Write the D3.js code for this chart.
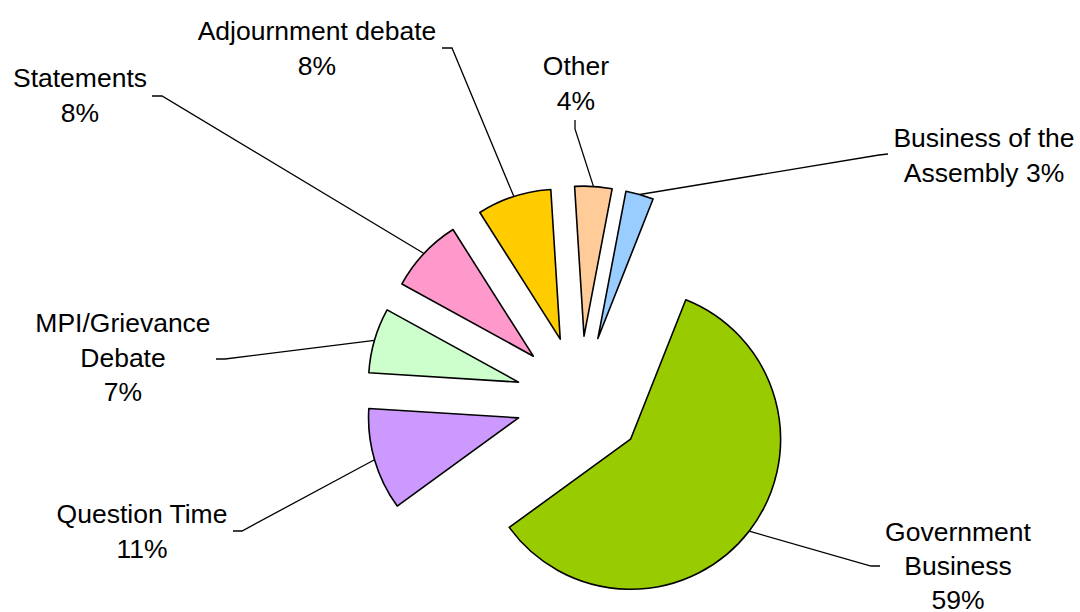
<!DOCTYPE html>
<html>
<head>
<meta charset="utf-8">
<script src="https://cdn.jsdelivr.net/npm/d3@7"></script>
<style>
  html, body { margin: 0; padding: 0; background: #fff; }
  svg text { font-family: "Liberation Sans", Arial, sans-serif; font-size: 26.5px; fill: #000; }
</style>
</head>
<body>
<svg id="chart" width="1080" height="612"></svg>
<script>
// values, in clockwise order from Government Business
const categories = ['Government Business', 'Question Time', 'MPI/Grievance Debate',
  'Statements', 'Adjournment debate', 'Other', 'Business of the Assembly'];
const shares = [59, 11, 7, 8, 8, 4, 3];
const sliceColors = ['#99CC00', '#CC99FF', '#CCFFCC', '#FF99CC', '#FFCC00', '#FFCC99', '#99CCFF'];
const labelLines = [
  ['Government', 'Business', '59%'],
  ['Question Time', '11%'],
  ['MPI/Grievance', 'Debate', '7%'],
  ['Statements', '8%'],
  ['Adjournment debate', '8%'],
  ['Other', '4%'],
  ['Business of the', 'Assembly 3%']
];

// layout (label anchors: centre x, first baseline)
const Center = [580, 400];
const Radius = 150;
const Explode = 64;
const LineHeight = 34.5;
const StartDeg = 21.6;
const labelPos = [[958, 541], [142, 523], [123, 332], [80, 87], [317, 40], [576, 75], [984, 147]];
const labelLineHeight = [34, LineHeight, LineHeight, LineHeight, LineHeight, LineHeight, LineHeight];
const leaderStart = [[880, 566], [233, 531], [216, 359], [152, 96], [442, 48], [575, 120], [888, 154]];
const leaderKnee = [[871, 566], [242, 531], [225, 359], [162, 96], [452, 48], [575, 129], [879, 155]];

const svg = d3.select('#chart');
const start = StartDeg * Math.PI / 180;
const pie = d3.pie()
  .sort(null)
  .value(d => d)
  .startAngle(start)
  .endAngle(start + 2 * Math.PI);
const arc = d3.arc().innerRadius(0).outerRadius(Radius);
const arcs = pie(shares);

const offsetOf = (a, r) => {
  const mid = (a.startAngle + a.endAngle) / 2;
  return [Math.sin(mid) * r, -Math.cos(mid) * r];
};

const slices = svg.append('g')
  .classed('slices', true)
  .selectAll('g')
  .data(arcs)
  .enter().append('g')
    .attr('transform', a => {
      const [dx, dy] = offsetOf(a, Explode);
      return `translate(${Center[0] + dx},${Center[1] + dy})`;
    });

slices.append('path')
  .attr('d', arc)
  .attr('fill', (a, i) => sliceColors[i])
  .attr('stroke', '#000')
  .attr('stroke-width', 1.6)
  .attr('stroke-linejoin', 'round');

// leader lines: label -> knee -> middle of the slice's outer arc
const line = d3.line();
svg.append('g')
  .classed('leaders', true)
  .selectAll('path')
  .data(arcs)
  .enter().append('path')
    .attr('fill', 'none')
    .attr('stroke', '#000')
    .attr('stroke-width', 1.3)
    .attr('d', (a, i) => {
      const [ex, ey] = offsetOf(a, Explode);
      const [px, py] = offsetOf(a, Radius);
      const end = [Center[0] + ex + px, Center[1] + ey + py];
      return line([leaderStart[i], leaderKnee[i], end]);
    });

const labels = svg.append('g')
  .classed('labels', true)
  .selectAll('text')
  .data(categories)
  .enter().append('text')
    .attr('text-anchor', 'middle')
    .attr('aria-label', (c, i) => `${c} ${shares[i]}%`);

labels.selectAll('tspan')
  .data((c, i) => labelLines[i].map((t, j) => ({ t, j, i })))
  .enter().append('tspan')
    .attr('x', d => labelPos[d.i][0])
    .attr('y', d => labelPos[d.i][1] + d.j * labelLineHeight[d.i])
    .text(d => d.t);
</script>
</body>
</html>
